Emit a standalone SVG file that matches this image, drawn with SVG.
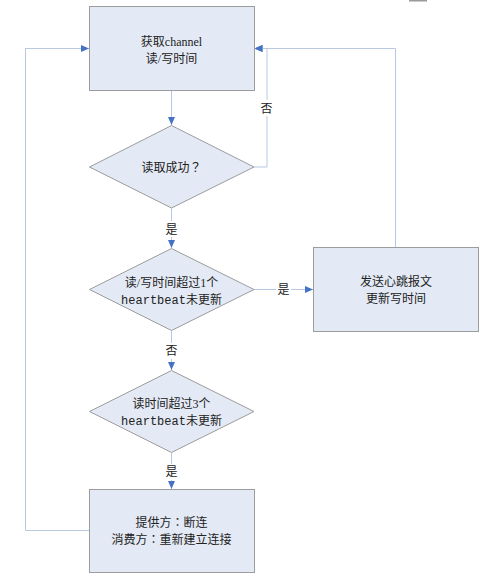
<svg xmlns="http://www.w3.org/2000/svg" width="491" height="582" viewBox="0 0 491 582">
<style>
.box{fill:#E4EAF5;stroke:#9C9C9C;stroke-width:1}
.cn{fill:none;stroke:#B8C8E0;stroke-width:1}
.t{font-family:"Liberation Serif","Noto Sans CJK SC",serif;font-size:12px;fill:#222;text-anchor:middle}
.tc{font-family:"Liberation Serif","Noto Sans CJK TC",serif}
.m{font-family:"Liberation Mono","Noto Sans CJK SC",monospace}
.lb{font-family:"Liberation Serif","Noto Sans CJK SC",serif;font-size:12px;fill:#222;text-anchor:middle}
</style>
<defs>
<marker id="ah" viewBox="0 0 8 8" refX="8" refY="4" markerWidth="8" markerHeight="8" markerUnits="userSpaceOnUse" orient="auto">
<path d="M0,0.5 L8,4 L0,7.5 Z" fill="#4472C4"/>
</marker>
</defs>
<rect x="409" y="0" width="18" height="1.5" fill="#9A9A9A"/>
<g id="connectors">
<path class="cn" d="M171.5,90.5 V125" marker-end="url(#ah)"/>
<path class="cn" d="M254,167 H267 V48.5 H254.5" marker-end="url(#ah)"/>
<path class="cn" d="M171.5,208 V248" marker-end="url(#ah)"/>
<path class="cn" d="M254,289.5 H313" marker-end="url(#ah)"/>
<path class="cn" d="M395.5,247.5 V48.5 H254.5" marker-end="url(#ah)"/>
<path class="cn" d="M171.5,331 V370" marker-end="url(#ah)"/>
<path class="cn" d="M171.5,453 V489" marker-end="url(#ah)"/>
<path class="cn" d="M89.5,530.5 H25.5 V48.5 H89" marker-end="url(#ah)"/>
<rect x="259" y="100" width="15" height="16" fill="#fff"/>
<text class="lb" x="266.5" y="112.5">否</text>
<rect x="164" y="221" width="15" height="16" fill="#fff"/>
<text class="lb" x="171.5" y="233.5">是</text>
<rect x="276" y="282" width="15" height="16" fill="#fff"/>
<text class="lb" x="283.5" y="294">是</text>
<rect x="164" y="343" width="15" height="16" fill="#fff"/>
<text class="lb" x="171.5" y="355">否</text>
<rect x="164" y="464" width="15" height="16" fill="#fff"/>
<text class="lb" x="171.5" y="476">是</text>
</g>
<g id="n1">
<rect class="box" x="89.5" y="6.5" width="165" height="84"/>
<text class="t" x="171.5" y="46">获取channel</text>
<text class="t" x="171.5" y="62.5">读/写时间</text>
</g>
<g id="n2">
<path class="box" d="M171.5,125.5 L254,167 L171.5,208 L89.5,167 Z"/>
<text class="t tc" x="171.5" y="171.5">读取成功？</text>
</g>
<g id="n3">
<path class="box" d="M171.5,248.5 L254,289.5 L171.5,330.5 L89.5,289.5 Z"/>
<text class="t" x="171.5" y="286.5">读/写时间超过1个</text>
<text class="t" x="171.5" y="303.5"><tspan class="m">heartbeat</tspan>未更新</text>
</g>
<g id="n4">
<rect class="box" x="313.5" y="247.5" width="165" height="84"/>
<text class="t" x="396" y="286">发送心跳报文</text>
<text class="t" x="396" y="303">更新写时间</text>
</g>
<g id="n5">
<path class="box" d="M171.5,370.5 L254,411.5 L171.5,452.5 L89.5,411.5 Z"/>
<text class="t" x="171.5" y="408">读时间超过3个</text>
<text class="t" x="171.5" y="425"><tspan class="m">heartbeat</tspan>未更新</text>
</g>
<g id="n6">
<rect class="box" x="89.5" y="489.5" width="165" height="83"/>
<text class="t tc" x="171.5" y="526.5">提供方：断连</text>
<text class="t tc" x="171.5" y="543.5">消费方：重新建立连接</text>
</g>
</svg>
